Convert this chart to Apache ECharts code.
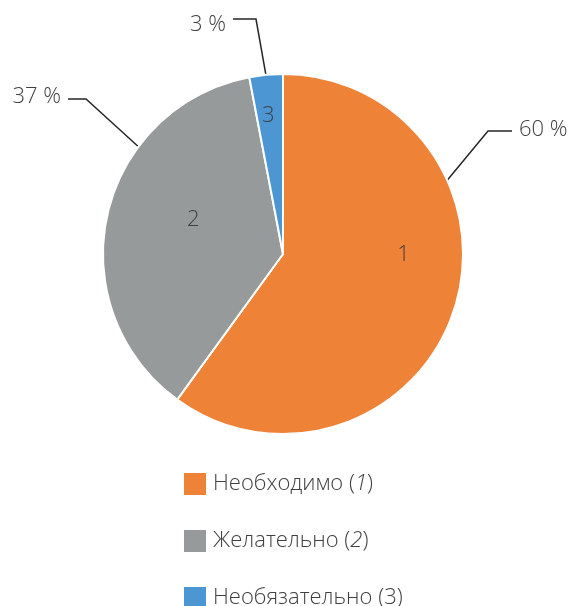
<!DOCTYPE html>
<html><head><meta charset="utf-8">
<script src="https://cdn.jsdelivr.net/npm/echarts@6/dist/echarts.min.js"></script>
<style>html,body{margin:0;padding:0;background:#fff}#c{width:572px;height:606px}</style>
</head><body><div id="c"></div>
<script>
// ---- data ----
const categories = ['Необходимо', 'Желательно', 'Необязательно'];
const sliceNumbers = ['1', '2', '3'];
const values = [60, 37, 3];
const percentLabels = ['60 %', '37 %', '3 %'];
const legendSuffix = ['{i|1}', '{i|2}', '3'];

// ---- style ----
const FONT = '"Open Sans", sans-serif';
const TXT = '#404040';
const FS = 22;
const colors = ['#EE8236', '#979A9A', '#4C96D3'];
const CX = 283, CY = 254, R = 180;
const innerShift = [[32, -28], [1, -14], [-6, -46]];
const outerPos = [
  { x: 519, y: 130, align: 'left', len: 24, dy: 1, bias: 6.8 },
  { x: 61, y: 97, align: 'right', len: 18, dy: 2, bias: -1.6 },
  { x: 226, y: 25, align: 'right', len: 23, dy: -6, bias: 1.1 }
];

const total = values.reduce((a, b) => a + b, 0);
function sliceRange(i) {
  let s = 0;
  for (let k = 0; k < i; k++) s += values[k];
  return [s / total * 2 * Math.PI, (s + values[i]) / total * 2 * Math.PI];
}

function outerLayout(p) {
  const o = outerPos[p.dataIndex];
  const gap = 7;
  const p2x = o.align === 'left' ? o.x - gap : o.x + gap;
  const ly = o.y + o.dy;
  const p1x = o.align === 'left' ? p2x - o.len : p2x + o.len;
  let ang = Math.atan2(p1x - CX, -(ly - CY)) + o.bias * Math.PI / 180;
  if (ang < 0) ang += 2 * Math.PI;
  const [a0, a1] = sliceRange(p.dataIndex);
  const m = 0.02;
  ang = Math.min(Math.max(ang, a0 + m), a1 - m);
  const p0 = [CX + R * Math.sin(ang), CY - R * Math.cos(ang)];
  return {
    x: o.x, y: o.y, align: o.align, verticalAlign: 'middle',
    labelLinePoints: [p0, [p1x, ly], [p2x, ly]]
  };
}

const chart = echarts.init(document.getElementById('c'), null, { renderer: 'canvas' });
chart.setOption({
  animation: false,
  backgroundColor: '#ffffff',
  color: colors,
  legend: {
    orient: 'vertical',
    left: 179,
    top: 468,
    height: 400,
    itemWidth: 22,
    itemHeight: 22,
    itemGap: 35,
    icon: 'rect',
    itemStyle: { borderWidth: 0 },
    data: categories,
    formatter: name => name + ' (' + legendSuffix[categories.indexOf(name)] + ')',
    textStyle: {
      fontFamily: FONT, fontSize: FS, fontWeight: 300, color: TXT, padding: [0, 0, 0, 2],
      rich: { i: { fontStyle: 'italic', fontFamily: FONT, fontSize: FS, fontWeight: 300, color: TXT } }
    }
  },
  series: [
    {
      type: 'pie',
      center: [CX, CY],
      radius: [0, R],
      startAngle: 90,
      clockwise: true,
      avoidLabelOverlap: false,
      silent: true,
      itemStyle: { borderColor: '#ffffff', borderWidth: 2 },
      label: {
        show: true, position: 'inner',
        formatter: p => sliceNumbers[p.dataIndex],
        fontFamily: FONT, fontSize: FS, fontWeight: 300, color: TXT
      },
      labelLayout: p => ({ dx: innerShift[p.dataIndex][0], dy: innerShift[p.dataIndex][1] }),
      data: categories.map((n, i) => ({ name: n, value: values[i] }))
    },
    {
      type: 'pie',
      center: [CX, CY],
      radius: [0, R],
      startAngle: 90,
      clockwise: true,
      avoidLabelOverlap: false,
      silent: true,
      itemStyle: { color: 'rgba(0,0,0,0)', borderWidth: 0 },
      label: {
        show: true, position: 'outside',
        formatter: p => percentLabels[p.dataIndex],
        fontFamily: FONT, fontSize: FS, fontWeight: 300, color: TXT
      },
      labelLine: { show: true, lineStyle: { color: '#262626', width: 1.5 } },
      labelLayout: outerLayout,
      data: categories.map((n, i) => ({ name: n, value: values[i] }))
    }
  ]
});
</script>
</body></html>
